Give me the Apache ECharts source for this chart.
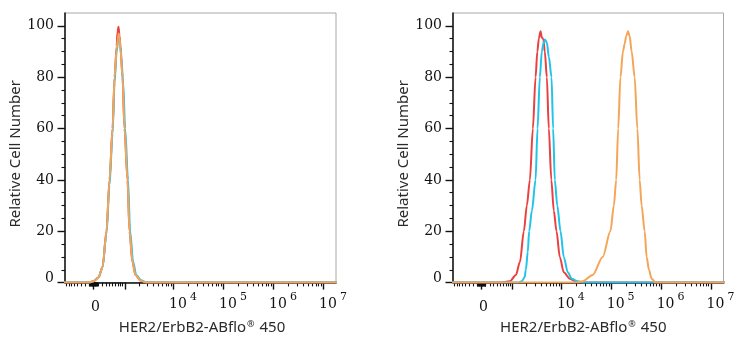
<!DOCTYPE html>
<html>
<head>
<meta charset="utf-8">
<script src="https://cdn.jsdelivr.net/npm/echarts@6/dist/echarts.min.js"></script>
<style>
  html, body { margin: 0; padding: 0; background: #fff; }
  #chart { width: 739px; height: 350px; }
</style>
</head>
<body>
<div id="chart"></div>
<script>
// Biexponential (arcsinh) display scale: linear around zero, log10 above ~10^3.
const W = 251;
function toScale(v) { return Math.log10(W) + Math.asinh(v / (2 * W)) / Math.LN10; }

const seriesNames = ['Control', 'Isotype', 'HER2/ErbB2'];
const seriesColors = ['#eb4040', '#22c3e8', '#f4a558'];

// Histogram outlines: [fluorescence intensity, relative cell number]
const leftRed = [[-5000,0],[-116,0],[0,0.5],[117,2],[215,6],[319,20],[405,40],[500,60],[568,80],[643,92],[675,97.5],[715,99.6],[756,96],[799,92],[889,80],[987,60],[1150,40],[1270,20],[1470,8],[1700,3],[2160,0.8],[2860,0],[1e8,0]];
const leftCyan = [[-5000,0],[-116,0],[0,0.5],[117,2],[215,6],[319,19],[405,38],[500,58],[568,78],[643,90],[700,94],[740,95],[780,93],[830,88],[920,78],[1020,60],[1180,40],[1310,20],[1520,8],[1760,3],[2250,0.8],[2950,0],[1e8,0]];
const leftOrange = [[-5000,0],[-116,0],[0,0.5],[117,2],[215,6],[319,20],[405,40],[500,60],[568,80],[643,91],[690,95],[725,97],[760,95],[799,91],[889,80],[987,60],[1150,40],[1270,20],[1470,8],[1700,3],[2160,0.8],[2860,0],[1e8,0]];

const rightRed = [[-5000,0],[482,0],[866,0.5],[1180,3],[1440,8],[1740,20],[2010,30],[2320,40],[2670,60],[3030,80],[3290,90],[3530,95],[3820,97.9],[4060,95.5],[4350,94.8],[4660,90],[5120,80],[5610,60],[6300,40],[7070,28],[8010,20],[9320,10],[11200,4],[14800,1.5],[21400,0],[1e8,0]];
const rightCyan = [[-5000,0],[1300,0],[1580,0.5],[1800,2],[1920,5],[2100,12],[2240,20],[2550,28],[3030,40],[3320,60],[3700,80],[4060,90],[4350,93],[4660,94.7],[5120,93.5],[5610,88],[6360,80],[6850,60],[7400,40],[8310,30],[9630,20],[11200,10],[13500,4],[16200,1.5],[21400,0.5],[29500,0],[1e8,0]];
const rightOrange = [[-5000,0],[18600,0],[26900,0.5],[42700,3],[67600,10],[96400,20],[113000,30],[125900,40],[138000,60],[153000,80],[172000,90],[186000,93],[200000,96],[217000,97.9],[234000,96],[257000,90],[295000,80],[334000,60],[372000,40],[407000,30],[468000,20],[513000,10],[570000,5],[646000,1.5],[776000,0],[1e8,0]];

// Axis ticks (intensity units)
const xLabelTicks = [0, 1e4, 1e5, 1e6, 1e7];
const xMajorTicks = [0, 1e3, 1e4, 1e5, 1e6, 1e7];
const yLabelTicks = [0, 20, 40, 60, 80, 100];
const yMinorStep = 5;
const yMax = 105;

const xTitle = '{n|HER2/ErbB2-ABflo}{r|®}{n| 450}';
const yTitle = 'Relative Cell Number';

const FONT_NUM = "'DejaVu Serif', serif";
const FONT_TXT = "'Noto Sans', 'Open Sans', sans-serif";
const INK = '#111';

function xMinorTicks() {
  const out = [];
  for (let k = 1; k <= 2; k++) {
    for (let m = 1; m <= 9; m++) { out.push(m * Math.pow(10, k)); out.push(-m * Math.pow(10, k)); }
  }
  for (let k = 3; k <= 6; k++) {
    for (let m = 2; m <= 9; m++) out.push(m * Math.pow(10, k));
  }
  return out;
}
function yMinorTicks() {
  const out = [];
  for (let v = 0; v <= 100; v += yMinorStep) if (v % 20 !== 0) out.push(v);
  return out;
}

const X_MIN = 1.83, X_MAX = 7.25;

function nearestTick(u) {
  let best = xLabelTicks[0], d = Infinity;
  xLabelTicks.forEach(t => { const dd = Math.abs(toScale(t) - u); if (dd < d) { d = dd; best = t; } });
  return best;
}

const grids = [
  { left: 65, top: 13, width: 271, height: 269.6, titlePad: [0, 0, 0, 3] },
  { left: 453, top: 13, width: 270.5, height: 269.6, titlePad: [0, 10, 0, 0] }
];

const xAxes = [], yAxes = [];
grids.forEach((g, gi) => {
  xAxes.push({
    type: 'value', gridIndex: gi, position: 'bottom', min: X_MIN, max: X_MAX,
    name: xTitle, nameLocation: 'middle', nameGap: 36,
    nameTextStyle: {
      padding: g.titlePad,
      rich: {
        n: { fontFamily: FONT_TXT, fontSize: 15, color: '#2a2a2a' },
        r: { fontFamily: FONT_TXT, fontSize: 9, color: '#2a2a2a', padding: [0, 1, 7, 1] }
      }
    },
    axisLine: { show: true, onZero: false, lineStyle: { color: INK, width: 1.5 } },
    axisTick: { show: true, length: 7, lineStyle: { color: INK, width: 1.4 }, customValues: xMajorTicks.map(toScale) },
    axisLabel: {
      customValues: xLabelTicks.map(toScale), margin: 9, align: 'center',
      formatter: u => {
        const v = nearestTick(u);
        if (v === 0) return '{z|0}';
        return '{b|10}{s|' + Math.round(Math.log10(v)) + '}';
      },
      rich: {
        z: { fontFamily: FONT_NUM, fontSize: 14, color: INK, padding: [9, 0, 6, 4] },
        b: { fontFamily: FONT_NUM, fontSize: 14, color: INK, padding: [0, 0, 0, 19] },
        s: { fontFamily: FONT_NUM, fontSize: 11, color: INK, padding: [0, 0, 15, 3] }
      }
    },
    splitLine: { show: false }
  });
  xAxes.push({
    type: 'value', gridIndex: gi, position: 'bottom', min: X_MIN, max: X_MAX,
    axisLine: { show: false },
    axisTick: { show: true, length: 3.8, lineStyle: { color: INK, width: 1.1 }, customValues: xMinorTicks().map(toScale) },
    axisLabel: { show: false },
    splitLine: { show: false }
  });
  yAxes.push({
    type: 'value', gridIndex: gi, position: 'left', min: 0, max: yMax,
    name: yTitle, nameLocation: 'middle', nameGap: 38, nameRotate: 90,
    nameTextStyle: { fontFamily: FONT_TXT, fontSize: 15, color: '#2a2a2a', padding: [0, 0, 0, -12] },
    axisLine: { show: true, onZero: false, lineStyle: { color: INK, width: 1.5 } },
    axisTick: { show: true, length: 7.5, lineStyle: { color: INK, width: 1.4 }, customValues: yLabelTicks },
    axisLabel: {
      customValues: yLabelTicks, margin: 11,
      formatter: v => v === 0 ? '{z|0}' : '{d|' + v + '}',
      rich: {
        d: { fontFamily: FONT_NUM, fontSize: 14, color: INK },
        z: { fontFamily: FONT_NUM, fontSize: 14, color: INK, padding: [0, 0, 9, 0] }
      }
    },
    splitLine: { show: false }
  });
  yAxes.push({
    type: 'value', gridIndex: gi, position: 'left', min: 0, max: yMax,
    axisLine: { show: false },
    axisTick: { show: true, length: 3.5, lineStyle: { color: INK, width: 1.1 }, customValues: yMinorTicks() },
    axisLabel: { show: false },
    splitLine: { show: false }
  });
});

function lineSeries(name, color, data, gi) {
  return {
    name, type: 'line', xAxisIndex: gi * 2, yAxisIndex: gi * 2,
    data: data.map(p => [toScale(p[0]), p[1]]),
    showSymbol: false, smooth: 0.3, smoothMonotone: 'x',
    lineStyle: { color, width: 2 }, itemStyle: { color },
    clip: true, silent: true
  };
}

const panels = [
  [leftRed, leftCyan, leftOrange],
  [rightRed, rightCyan, rightOrange]
];
const series = [];
panels.forEach((sets, gi) => sets.forEach((d, i) => series.push(lineSeries(seriesNames[i], seriesColors[i], d, gi))));

const chart = echarts.init(document.getElementById('chart'), null, { renderer: 'canvas' });
chart.setOption({
  animation: false,
  backgroundColor: '#ffffff',
  grid: grids.map(g => ({ show: true, borderColor: '#a8a8a8', borderWidth: 1, backgroundColor: 'transparent', left: g.left, top: g.top, width: g.width, height: g.height })),
  xAxis: xAxes,
  yAxis: yAxes,
  series
});
</script>
</body>
</html>
